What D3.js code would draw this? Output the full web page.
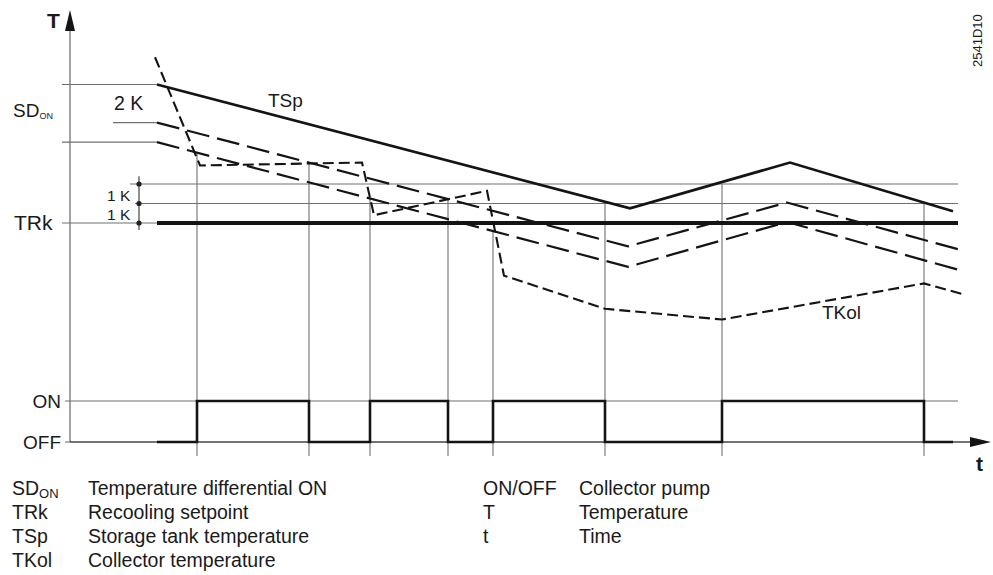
<!DOCTYPE html>
<html>
<head>
<meta charset="utf-8">
<script src="https://cdn.jsdelivr.net/npm/d3@7"></script>
<style>
html,body{margin:0;padding:0;background:#fff;}
svg{display:block;}
text{font-family:"Liberation Sans",Arial,Helvetica,sans-serif;fill:#1a1a1a;}
</style>
</head>
<body>
<svg id="chart" width="993" height="575"></svg>
<script>
// ---------------- DATA (time in arbitrary units, temperature in K relative to TRk) ----------------
const tspTime   = [8.7, 56.0, 72.0, 88.3];
const tspTemp   = [7.1, 0.75, 3.1, 0.6];            // TSp storage tank temperature
const offTime   = [8.7, 55.8, 71.7, 89.2];
const tspM2Temp = [5.15, -1.2, 1.05, -1.4];          // TSp - 2 K
const tspM3Temp = [4.15, -2.25, 0.05, -2.45];        // TSp - SD_ON
const tkolTime  = [8.5, 13.0, 29.2, 30.4, 41.7, 43.4, 53.5, 65.2, 85.4, 89.3];
const tkolTemp  = [8.5, 2.95, 3.1, 0.4, 1.65, -2.7, -4.4, -4.95, -3.1, -3.65]; // TKol collector temperature
const pumpTime  = [8.7, 12.7, 23.9, 30.0, 37.8, 42.3, 53.5, 65.2, 85.4, 88.3];
const pumpState = [0, 1, 0, 1, 0, 1, 0, 1, 0, 0];   // collector pump OFF/ON
const eventTime = [12.7, 23.9, 30.0, 37.8, 42.3, 53.5, 65.2, 85.4];
const eventTop  = [3.6, 3.1, 1.3, 1.25, -0.4, 1, 2, 1];
const trk = 0;                // recooling setpoint
const kLevels = [1, 2];       // TRk + 1 K, TRk + 2 K
const legendLeftAbbr  = ["SD", "TRk", "TSp", "TKol"];
const legendLeftDesc  = ["Temperature differential ON", "Recooling setpoint", "Storage tank temperature", "Collector temperature"];
const legendRightAbbr = ["ON/OFF", "T", "t"];
const legendRightDesc = ["Collector pump", "Temperature", "Time"];

// ---------------- SCALES ----------------
const svg = d3.select("#chart");
const x = d3.scaleLinear().domain([0, 92]).range([70, 990]);
const y = d3.scaleLinear().domain([0, 1]).range([223, 203.5]);
const yp = d3.scaleLinear().domain([0, 1]).range([442, 401]);
const tEnd = 88.8, tLeft = -0.8;
const thin = "#707070", ink = "#141414";

const line = d3.line().x(d => x(d[0])).y(d => y(d[1]));
const zip = (a, b) => a.map((v, i) => [v, b[i]]);

function hline(t0, t1, v, sc, col, w) {
  svg.append("line").attr("x1", x(t0)).attr("x2", x(t1))
    .attr("y1", sc(v)).attr("y2", sc(v))
    .attr("stroke", col).attr("stroke-width", w);
}

// event vertical lines
eventTime.forEach((t, i) => {
  svg.append("line").attr("x1", x(t)).attr("x2", x(t))
    .attr("y1", y(eventTop[i])).attr("y2", yp(0) + 14)
    .attr("stroke", thin).attr("stroke-width", 1.1);
});

// reference thin lines
hline(6.0, tEnd, kLevels[1], y, thin, 1.1);
hline(6.5, tEnd, kLevels[0], y, thin, 1.1);
hline(tLeft, 8.7, trk, y, thin, 1.1);
hline(tLeft, 8.7, tspTemp[0], y, thin, 1.1);
hline(4.3, 8.7, tspM2Temp[0], y, thin, 1.1);
hline(tLeft, 8.7, tspM3Temp[0], y, thin, 1.1);
hline(-0.5, tEnd, 1, yp, thin, 1.1);
hline(-0.5, 0, 0, yp, thin, 1.1);

// dimension marker for 1 K steps
svg.append("line").attr("x1", x(6.9)).attr("x2", x(6.9))
  .attr("y1", y(2.4)).attr("y2", y(-0.36)).attr("stroke", "#333").attr("stroke-width", 1.1);
[0, 1, 2].forEach(v => svg.append("circle").attr("cx", x(6.9)).attr("cy", y(v)).attr("r", 2.6).attr("fill", "#222"));

// axes
svg.append("line").attr("x1", x(0)).attr("x2", x(0)).attr("y1", yp(0)).attr("y2", 26)
  .attr("stroke", thin).attr("stroke-width", 1.3);
svg.append("path").attr("d", `M${x(0)},10 L${x(0)-5},31 L${x(0)+5},31 Z`).attr("fill", ink);
svg.append("line").attr("x1", x(0)).attr("x2", 975).attr("y1", yp(0)).attr("y2", yp(0))
  .attr("stroke", "#444").attr("stroke-width", 1.4);
svg.append("path").attr("d", `M991,${yp(0)} L970,${yp(0)-5} L970,${yp(0)+5} Z`).attr("fill", ink);

// TRk thick line
hline(8.7, tEnd, trk, y, ink, 4);

// TSp - offsets (long dashes)
svg.append("path").attr("d", line(zip(offTime, tspM2Temp))).attr("fill", "none")
  .attr("stroke", ink).attr("stroke-width", 2.2).attr("stroke-dasharray", "23,8");
svg.append("path").attr("d", line(zip(offTime, tspM3Temp))).attr("fill", "none")
  .attr("stroke", ink).attr("stroke-width", 2.2).attr("stroke-dasharray", "23,8");

// TSp solid
svg.append("path").attr("d", line(zip(tspTime, tspTemp))).attr("fill", "none")
  .attr("stroke", ink).attr("stroke-width", 2.7);

// TKol short dashes
svg.append("path").attr("d", line(zip(tkolTime, tkolTemp))).attr("fill", "none")
  .attr("stroke", ink).attr("stroke-width", 2.1).attr("stroke-dasharray", "11,5");

// pump signal
svg.append("path")
  .attr("d", d3.line().x(d => x(d[0])).y(d => yp(d[1])).curve(d3.curveStepAfter)(zip(pumpTime, pumpState)))
  .attr("fill", "none").attr("stroke", ink).attr("stroke-width", 2.6);

// ---------------- TEXT ----------------
function txt(xx, yy, s, size, opts = {}) {
  const t = svg.append("text").attr("x", xx).attr("y", yy).text(s).style("font-size", size + "px");
  if (opts.anchor) t.attr("text-anchor", opts.anchor);
  if (opts.bold) t.style("font-weight", "bold");
  return t;
}
txt(47, 28, "T", 21, {bold: true});
txt(976, 471, "t", 21, {bold: true});
const sd = svg.append("text").attr("x", 13).attr("y", 117).style("font-size", "19px");
sd.append("tspan").text("SD");
sd.append("tspan").attr("dy", 2).style("font-size", "9px").text("ON");
txt(114, 110, "2 K", 19.5);
txt(268, 107, "TSp", 19);
txt(107, 201, "1 K", 15.5);
txt(107, 220, "1 K", 15.5);
txt(14, 230, "TRk", 21);
txt(61, 408, "ON", 19, {anchor: "end"});
txt(61, 449, "OFF", 19, {anchor: "end"});
txt(822, 319, "TKol", 19);
svg.append("text").attr("transform", "translate(982,67) rotate(-90)").style("font-size", "13px").text("2541D10");

// legend
const rowY = d3.range(4).map(i => 495 + i * 24);
legendLeftAbbr.forEach((s, i) => {
  const t = svg.append("text").attr("x", 12).attr("y", rowY[i]).style("font-size", "19.5px");
  t.append("tspan").text(s);
  if (i === 0) t.append("tspan").attr("dy", 3).style("font-size", "13px").text("ON");
  txt(88, rowY[i], legendLeftDesc[i], 19.5);
});
legendRightAbbr.forEach((s, i) => {
  txt(483, rowY[i], s, 19.5);
  txt(579, rowY[i], legendRightDesc[i], 19.5);
});
</script>
</body>
</html>
